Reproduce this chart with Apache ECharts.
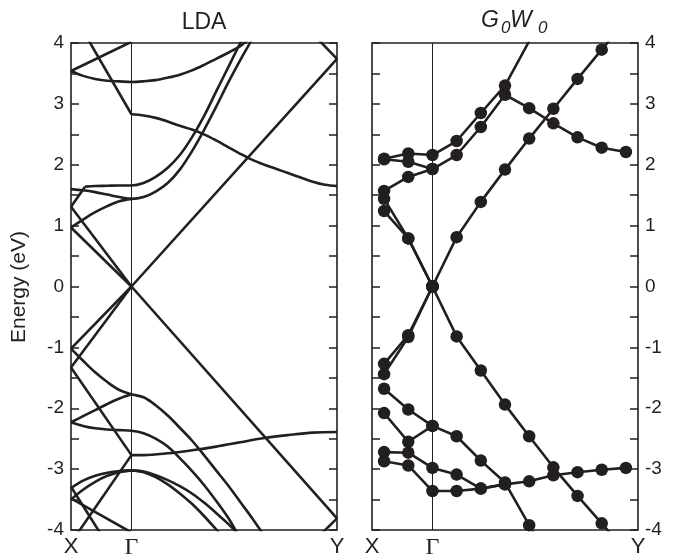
<!DOCTYPE html>
<html><head><meta charset="utf-8">
<script src="https://cdn.jsdelivr.net/npm/echarts@6/dist/echarts.min.js"></script>
<style>html,body{margin:0;padding:0;background:#fff}#c{width:678px;height:560px}</style>
</head><body><div id="c"></div>
<script>
// ---- k-path (x) : X = 0, Γ = 2.5, Y = 11 ----
const kLabels = ['X', 'Γ', 'Y'];
const kPositions = [0, 2.5, 11];
const gwK = [0.5, 1.5, 2.5, 3.5, 4.5, 5.5, 6.5, 7.5, 8.5, 9.5, 10.5];
const energyRange = [-4, 4];

// ---- LDA bands: [k, E] ----
const ldaC1 = [[2.5,0],[11,3.74]];
const ldaC2 = [[0,0.97],[2.5,0]];
const ldaC3 = [[0,1.31],[2.5,0]];
const ldaC4a = [[0,1.31],[0.58,1.64]];
const ldaC4b = [[0.58,1.64],[1.0,1.65],[1.5,1.655],[2.0,1.66],[2.5,1.66],[3.0,1.70],[3.5,1.80],[4.0,1.95],[4.5,2.16],[5.0,2.45],[5.5,2.80],[6.0,3.2],[6.5,3.6],[7.0,4.0],[7.5,4.4]];
const ldaC5 = [[0,1.60],[0.5,1.58],[1.0,1.55],[1.5,1.51],[2.0,1.47],[2.5,1.44],[3.0,1.47],[3.5,1.56],[4.0,1.70],[4.5,1.92],[5.0,2.22],[5.5,2.57],[6.0,2.95],[6.5,3.35],[7.0,3.72],[7.4,4.0],[7.8,4.3]];
const ldaC6 = [[0,0.97],[0.5,1.10],[1.0,1.22],[1.5,1.32],[2.0,1.40],[2.5,1.44]];
const ldaC7a = [[0.5,4.2],[2.5,2.83]];
const ldaC7b = [[2.5,2.83],[3.0,2.81],[3.5,2.77],[4.0,2.71],[4.5,2.64],[5.0,2.58],[5.5,2.50],[6.0,2.40],[6.5,2.29],[7.0,2.18],[7.5,2.08],[8.0,2.00],[8.5,1.93],[9.0,1.86],[9.5,1.79],[10.0,1.72],[10.5,1.67],[11,1.65]];
const ldaC8 = [[0,3.54],[0.5,3.46],[1.0,3.41],[1.5,3.38],[2.0,3.37],[2.5,3.36],[3.0,3.37],[3.5,3.39],[4.0,3.43],[4.5,3.48],[5.0,3.55],[5.5,3.64],[6.0,3.74],[6.5,3.84],[7.0,3.95],[7.3,4.05]];
const ldaC9 = [[0,3.54],[2.5,4.02]];
const ldaC10 = [[10,4.15],[11,3.74]];

const ldaV1 = [[2.5,0],[11,-3.81]];
const ldaV2 = [[0,-1.02],[2.5,0]];
const ldaV3 = [[0,-1.33],[2.5,0]];
const ldaV4 = [[0,-1.02],[0.5,-1.22],[1.0,-1.41],[1.5,-1.57],[2.0,-1.70],[2.5,-1.77],[3.0,-1.82],[3.5,-1.95],[4.0,-2.12],[4.5,-2.32],[5.0,-2.53],[5.5,-2.77],[6.0,-3.02],[6.5,-3.27],[7.0,-3.54],[7.5,-3.81],[8.0,-4.1]];
const ldaV5 = [[0,-1.33],[2.5,-2.77]];
const ldaV6 = [[0,-2.23],[0.5,-2.13],[1.0,-2.03],[1.5,-1.93],[2.0,-1.84],[2.5,-1.77]];
const ldaV7 = [[0,-2.23],[0.5,-2.29],[1.0,-2.33],[1.5,-2.35],[2.0,-2.36],[2.5,-2.37],[3.0,-2.41],[3.5,-2.50],[4.0,-2.63],[4.5,-2.82],[5.0,-3.03],[5.5,-3.26],[6.0,-3.52],[6.5,-3.80],[6.8,-4.0],[7.0,-4.12]];
const ldaV8 = [[2.5,-2.77],[3.0,-2.77],[4.0,-2.74],[5.0,-2.69],[6.0,-2.63],[7.0,-2.56],[8.0,-2.49],[9.0,-2.44],[10.0,-2.40],[11,-2.39]];
const ldaV9 = [[0,-4.21],[2.5,-2.77]];
const ldaV10 = [[0,-3.31],[0.5,-3.19],[1.0,-3.11],[1.5,-3.06],[2.0,-3.03],[2.5,-3.02]];
const ldaV11 = [[0,-3.50],[0.5,-3.34],[1.0,-3.21],[1.5,-3.11],[2.0,-3.05],[2.5,-3.02]];
const ldaV12 = [[2.5,-3.02],[3.0,-3.05],[3.5,-3.13],[4.0,-3.25],[4.5,-3.40],[5.0,-3.57],[5.5,-3.77],[6.0,-3.99],[6.2,-4.08]];
const ldaV13 = [[2.5,-3.02],[3.0,-3.04],[3.5,-3.10],[4.0,-3.18],[4.5,-3.28],[5.0,-3.40],[5.5,-3.55],[6.0,-3.72],[6.5,-3.90],[6.8,-4.02]];
const ldaV14 = [[0,-3.29],[1.3,-4.11]];
const ldaV15 = [[0,-3.48],[2.5,-4.04]];
const ldaV16 = [[10,-4.2],[11,-3.81]];

// ---- G0W0 bands: values at gwK points (null = no point) ----
const gwA = [2.10, 2.185, 2.16, 2.39, 2.85, 3.30, 4.03];
const gwB = [2.09, 2.05, 1.93, 2.16, 2.62, 3.15, 2.93, 2.68, 2.45, 2.28, 2.21];
const gwC = [1.57, 1.80, 1.93];
const gwD = [1.44, 0.79, 0];
const gwE = [1.24, 0.79, 0];
const gwF = [null, null, 0, 0.81, 1.39, 1.92, 2.43, 2.92, 3.41, 3.89, 4.37];
const gwG = [null, null, 0, -0.82, -1.38, -1.94, -2.46, -2.97, -3.44, -3.89, -4.35];
const gwH1 = [-1.27, -0.80, 0];
const gwH2 = [-1.44, -0.83, 0];
const gwI = [-1.68, -2.02, -2.29, -2.46, -2.86, -3.22, -3.92, -4.6];
const gwJ = [-2.08, -2.55, -2.29];
const gwL = [-2.72, -2.73, -2.98, -3.09, -3.32, -3.25];
const gwM = [-2.87, -2.94, -3.36, -3.36, -3.32, -3.25, -3.20, -3.10, -3.05, -3.01, -2.98];

const INK = '#231f20';
const FONT = 'Liberation Sans';

const ldaBands = [ldaC1, ldaC2, ldaC3, ldaC4a, ldaC4b, ldaC5, ldaC6, ldaC7a, ldaC7b, ldaC8, ldaC9, ldaC10,
  ldaV1, ldaV2, ldaV3, ldaV4, ldaV5, ldaV6, ldaV7, ldaV8, ldaV9, ldaV10, ldaV11, ldaV12, ldaV13, ldaV14, ldaV15, ldaV16];
const gwBands = [gwA, gwB, gwC, gwD, gwE, gwF, gwG, gwH1, gwH2, gwI, gwJ, gwL, gwM];

const gridBox = { top: 43, height: 488, width: 266 };
const grids = [
  Object.assign({ left: 71 }, gridBox),
  Object.assign({ left: 372 }, gridBox)
].map(g => Object.assign(g, { show: true, borderColor: INK, borderWidth: 1.6, backgroundColor: 'transparent', z: 10 }));

function xAxisFor(i) {
  return {
    gridIndex: i, type: 'value', min: kPositions[0], max: kPositions[2], interval: 0.5,
    axisLine: { show: false }, axisTick: { show: false }, splitLine: { show: false },
    axisLabel: {
      margin: 6, color: INK, fontFamily: FONT, fontSize: 22,
      formatter: v => {
        const idx = kPositions.indexOf(v);
        if (idx < 0) return '';
        return idx === 1 ? '{g|' + kLabels[idx] + '}' : kLabels[idx];
      },
      rich: { g: { fontFamily: 'Liberation Serif', fontSize: 24, color: INK } }
    }
  };
}
function yAxisFor(grid, pos, showLabel) {
  return {
    gridIndex: grid, type: 'value', position: pos, min: energyRange[0], max: energyRange[1], interval: 0.5,
    axisLine: { show: false }, splitLine: { show: false },
    axisTick: { show: true, inside: true, length: 8, lineStyle: { color: INK, width: 1.5 } },
    axisLabel: { show: showLabel, color: INK, fontFamily: FONT, fontSize: 19, margin: 7,
      formatter: v => (Number.isInteger(v) ? String(v) : '') }
  };
}

const series = [];
ldaBands.forEach((band, i) => {
  series.push({
    type: 'line', xAxisIndex: 0, yAxisIndex: 0, data: band, showSymbol: false, smooth: 0.35,
    clip: true, silent: true, lineStyle: { color: INK, width: 2.6 }, z: 5,
    markLine: i === 0 ? { silent: true, symbol: ['none', 'none'], label: { show: false },
      lineStyle: { color: INK, width: 1, type: 'solid' }, data: [{ xAxis: kPositions[1] }] } : undefined
  });
});
gwBands.forEach((band, i) => {
  series.push({
    type: 'line', xAxisIndex: 1, yAxisIndex: 3,
    data: band.map((v, j) => [gwK[j], v]),
    symbol: 'circle', symbolSize: 12.5, showSymbol: true, clip: true, silent: true,
    itemStyle: { color: INK }, lineStyle: { color: INK, width: 2.6 }, z: 5,
    markLine: i === 0 ? { silent: true, symbol: ['none', 'none'], label: { show: false },
      lineStyle: { color: INK, width: 1, type: 'solid' }, data: [{ xAxis: kPositions[1] }] } : undefined
  });
});

const chart = echarts.init(document.getElementById('c'), null, { renderer: 'canvas' });
chart.setOption({
  animation: false,
  backgroundColor: '#fff',
  grid: grids,
  xAxis: [xAxisFor(0), xAxisFor(1)],
  yAxis: [yAxisFor(0, 'left', true), yAxisFor(0, 'right', false), yAxisFor(1, 'left', false), yAxisFor(1, 'right', true)],
  series: series,
  graphic: [
    { type: 'text', x: 204, y: 23, style: { text: 'LDA', font: '23px ' + FONT, fill: INK, textAlign: 'center', textVerticalAlign: 'middle' } },
    { type: 'text', x: 19, y: 287, rotation: Math.PI / 2, style: { text: 'Energy (eV)', font: '21px ' + FONT, fill: INK, textAlign: 'center', textVerticalAlign: 'middle' } },
    { type: 'text', x: 481, y: 32, style: { text: 'G', font: 'italic 23px ' + FONT, fill: INK, textVerticalAlign: 'bottom' } },
    { type: 'text', x: 501, y: 37, style: { text: '0', font: 'italic 17px ' + FONT, fill: INK, textVerticalAlign: 'bottom' } },
    { type: 'text', x: 510, y: 32, style: { text: 'W', font: 'italic 23px ' + FONT, fill: INK, textVerticalAlign: 'bottom' } },
    { type: 'text', x: 538, y: 37, style: { text: '0', font: 'italic 17px ' + FONT, fill: INK, textVerticalAlign: 'bottom' } }
  ]
});
</script>
</body></html>
